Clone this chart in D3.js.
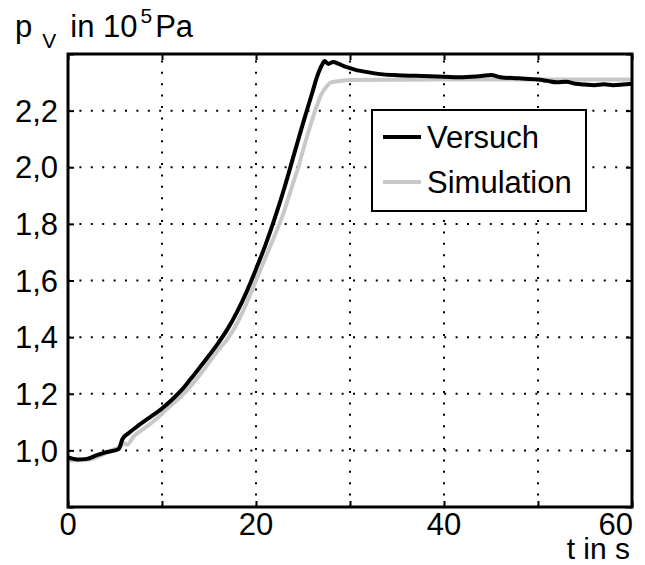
<!DOCTYPE html>
<html>
<head>
<meta charset="utf-8">
<script src="https://cdn.jsdelivr.net/npm/d3@7"></script>
<style>
  html, body { margin: 0; padding: 0; background: #fff; }
  svg text { font-family: "Liberation Sans", Arial, Helvetica, sans-serif; fill: #000; }
</style>
</head>
<body>
<svg id="chart" width="645" height="565"></svg>
<script>
// Measured pressure (Versuch) over time, t in s, p in 1e5 Pa
const versuchT = [0, 1, 2, 3, 4, 5, 5.4, 5.8, 6.5, 7.5, 8.5, 10, 11, 12, 13, 14, 15, 16, 17, 18, 19, 20, 21, 22, 23, 24, 25, 26, 26.5, 27, 27.3, 27.7, 28.2, 28.8, 29.5, 30.5, 32, 33.5, 35, 37, 40, 42, 44, 45, 46, 48, 50, 51, 52, 53, 54, 55, 56, 57, 58, 59, 60];
const versuchP = [0.975, 0.968, 0.97, 0.982, 0.993, 1.0, 1.005, 1.04, 1.062, 1.088, 1.112, 1.148, 1.177, 1.21, 1.25, 1.292, 1.335, 1.38, 1.43, 1.49, 1.56, 1.64, 1.725, 1.82, 1.925, 2.04, 2.155, 2.265, 2.32, 2.36, 2.375, 2.365, 2.372, 2.365, 2.355, 2.345, 2.335, 2.328, 2.325, 2.323, 2.32, 2.318, 2.322, 2.326, 2.318, 2.314, 2.31, 2.305, 2.30, 2.302, 2.295, 2.292, 2.29, 2.293, 2.29, 2.292, 2.295];

// Simulated pressure (Simulation)
const simT = [0, 2, 3, 4, 5, 5.5, 6, 6.3, 7, 8, 9, 10, 11, 12, 13, 14, 15, 16, 17, 18, 19, 20, 21, 22, 22.5, 23, 24, 24.5, 25, 26, 26.5, 27, 27.5, 28, 29, 30, 40, 50, 60];
const simP = [0.965, 0.966, 0.975, 0.99, 1.005, 1.012, 1.025, 1.02, 1.05, 1.075, 1.10, 1.13, 1.16, 1.19, 1.225, 1.265, 1.31, 1.355, 1.395, 1.45, 1.52, 1.60, 1.68, 1.76, 1.80, 1.845, 1.95, 2.0, 2.06, 2.17, 2.22, 2.26, 2.285, 2.30, 2.305, 2.308, 2.31, 2.31, 2.31];

const xTicks = [0, 10, 20, 30, 40, 50, 60];
const xTickLabels = ["0", "", "20", "", "40", "", "60"];
const yTicks = [0.8, 1.0, 1.2, 1.4, 1.6, 1.8, 2.0, 2.2, 2.4];
const yTickLabels = ["", "1,0", "1,2", "1,4", "1,6", "1,8", "2,0", "2,2", ""];
const seriesNames = ["Versuch", "Simulation"];
const seriesColors = ["#000000", "#c8c8c8"];

const svg = d3.select("#chart");
const mLeft = 68, mRight = 632, mTop = 54, mBottom = 507;

const x = d3.scaleLinear().domain([0, 60]).range([mLeft, mRight]);
const y = d3.scaleLinear().domain([0.8, 2.4]).range([mBottom, mTop]);

// dotted grid
const grid = svg.append("g").attr("stroke", "#000").attr("stroke-width", 2)
  .attr("stroke-dasharray", "2,9.4");
grid.selectAll("line.gx").data(xTicks.slice(1, -1)).join("line")
  .attr("x1", d => x(d)).attr("x2", d => x(d))
  .attr("y1", mBottom).attr("y2", mTop);
grid.selectAll("line.gy").data(yTicks.slice(1, -1)).join("line")
  .attr("y1", d => y(d)).attr("y2", d => y(d))
  .attr("x1", mLeft).attr("x2", mRight);

// data lines
const line = d3.line().x(d => x(d[0])).y(d => y(d[1])).curve(d3.curveMonotoneX);
const sim = simT.map((t, i) => [t, simP[i]]);
const ver = versuchT.map((t, i) => [t, versuchP[i]]);
const plot = svg.append("g");
plot.append("path").datum(sim).attr("d", line)
  .attr("fill", "none").attr("stroke", seriesColors[1]).attr("stroke-width", 4)
  .attr("stroke-linejoin", "round");
plot.append("path").datum(ver).attr("d", line)
  .attr("fill", "none").attr("stroke", seriesColors[0]).attr("stroke-width", 4)
  .attr("stroke-linejoin", "round");

// axes with inward ticks on all four sides
const tick = 6;
const axB = d3.axisBottom(x).tickValues(xTicks).tickSize(-tick).tickFormat("");
const axT = d3.axisTop(x).tickValues(xTicks).tickSize(-tick).tickFormat("");
const axL = d3.axisLeft(y).tickValues(yTicks).tickSize(-tick).tickFormat("");
const axR = d3.axisRight(y).tickValues(yTicks).tickSize(-tick).tickFormat("");
function styleAxis(g) {
  g.select(".domain").remove();
  g.selectAll(".tick line").attr("stroke", "#000").attr("stroke-width", 2);
}
svg.append("g").attr("transform", `translate(0,${mBottom})`).call(axB).call(styleAxis);
svg.append("g").attr("transform", `translate(0,${mTop})`).call(axT).call(styleAxis);
svg.append("g").attr("transform", `translate(${mLeft},0)`).call(axL).call(styleAxis);
svg.append("g").attr("transform", `translate(${mRight},0)`).call(axR).call(styleAxis);

svg.append("rect").attr("x", mLeft).attr("y", mTop)
  .attr("width", mRight - mLeft).attr("height", mBottom - mTop)
  .attr("fill", "none").attr("stroke", "#000").attr("stroke-width", 3);

// tick labels
const fs = 31;
svg.append("g").selectAll("text").data(xTicks).join("text")
  .attr("x", (d, i) => i === xTicks.length - 1 ? x(d) + 1 : x(d))
  .attr("y", mBottom + 28)
  .attr("text-anchor", (d, i) => i === xTicks.length - 1 ? "end" : "middle")
  .attr("font-size", fs)
  .text((d, i) => xTickLabels[i]);
svg.append("g").selectAll("text").data(yTicks).join("text")
  .attr("x", mLeft - 10)
  .attr("y", d => y(d))
  .attr("dy", "0.36em")
  .attr("text-anchor", "end")
  .attr("font-size", fs)
  .text((d, i) => yTickLabels[i]);

// axis titles
svg.append("text").attr("x", 630).attr("y", 559).attr("text-anchor", "end")
  .attr("font-size", 30).text("t in s");

const yl = svg.append("text").attr("x", 15).attr("y", 37).attr("font-size", fs);
yl.append("tspan").text("p");
yl.append("tspan").attr("font-size", 21).attr("dx", 10).attr("dy", 11).text("V");
yl.append("tspan").attr("dx", 14).attr("dy", -11).text("in 10");
yl.append("tspan").attr("font-size", 21).attr("dx", 3).attr("dy", -14).text("5");
yl.append("tspan").attr("dx", 3).attr("dy", 14).text("Pa");

// legend
const lg = svg.append("g");
lg.append("rect").attr("x", 372).attr("y", 110).attr("width", 214).attr("height", 101)
  .attr("fill", "#fff").attr("stroke", "#000").attr("stroke-width", 2);
seriesNames.forEach((name, i) => {
  const yy = 137 + i * 45;
  lg.append("line").attr("x1", 383).attr("x2", 421).attr("y1", yy).attr("y2", yy)
    .attr("stroke", seriesColors[i]).attr("stroke-width", 4);
  lg.append("text").attr("x", 427).attr("y", yy).attr("dy", "0.36em")
    .attr("font-size", fs).text(name);
});
</script>
</body>
</html>
